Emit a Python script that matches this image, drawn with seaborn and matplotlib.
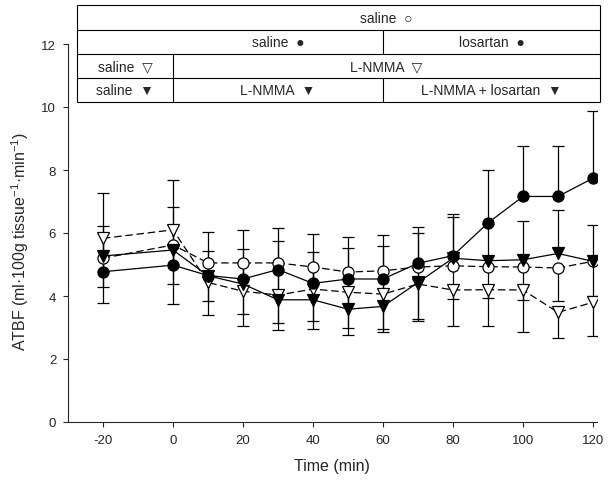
import matplotlib
matplotlib.use("Agg")
import matplotlib.pyplot as plt
import seaborn as sns
import numpy as np

# ---------------- data ----------------
times = [-20, 0, 10, 20, 30, 40, 50, 60, 70, 80, 90, 100, 110, 120]

# saline throughout (open circle, dashed)
oc_mean = [5.20, 5.62, 5.05, 5.05, 5.05, 4.92, 4.76, 4.80, 4.92, 4.96, 4.93, 4.92, 4.89, 5.10]
oc_err = [1.42, 1.86, 1.20, 1.62, 1.91, 1.72, 1.76, 1.85, 1.65, 1.06, 1.00, 1.05, 1.04, 1.09]

# saline -> losartan (filled circle, solid)
fc_mean = [4.77, 4.98, 4.65, 4.54, 4.84, 4.40, 4.54, 4.54, 5.04, 5.28, 6.32, 7.16, 7.16, 7.74]
fc_err = [1.44, 1.83, 0.79, 0.95, 1.31, 1.01, 0.97, 1.04, 1.16, 1.32, 1.69, 1.61, 1.61, 2.14]

# saline -> L-NMMA (open triangle, dashed)
ot_mean = [5.83, 6.10, 4.43, 4.15, 4.03, 4.22, 4.12, 4.06, 4.38, 4.19, 4.20, 4.19, 3.48, 3.80]
ot_err = [1.56, 1.72, 1.03, 1.09, 1.11, 1.27, 1.36, 1.21, 1.17, 1.15, 1.14, 1.32, 0.82, 1.06]

# saline -> L-NMMA -> L-NMMA + losartan (filled triangle, solid)
ft_mean = [5.27, 5.46, 4.64, 4.38, 3.88, 3.88, 3.58, 3.67, 4.43, 5.20, 5.12, 5.15, 5.35, 5.10]
ft_err = [2.00, 2.23, 1.40, 1.72, 1.88, 2.09, 2.28, 2.27, 1.57, 1.30, 1.18, 1.24, 1.39, 1.15]

x_ticks = [-20, 0, 20, 40, 60, 80, 100, 120]
y_ticks = [0, 2, 4, 6, 8, 10, 12]

# table (protocol) texts
row1 = ["saline  \u25CB"]
row2 = ["saline  \u25CF", "losartan  \u25CF"]
row3 = ["saline  \u25BD", "L-NMMA  \u25BD"]
row4 = ["saline  \u25BC", "L-NMMA  \u25BC", "L-NMMA + losartan  \u25BC"]

# ---------------- style ----------------
sns.set_style("ticks")
plt.rcParams['font.family'] = ['Liberation Sans', 'DejaVu Sans']
plt.rcParams['mathtext.default'] = 'regular'
plt.rcParams['axes.unicode_minus'] = False

fig = plt.figure(figsize=(6.08, 4.89), dpi=100)
ax = fig.add_axes([68 / 608, 1 - 423 / 489, 528.5 / 608, 378 / 489])

dash = (0, (6, 3))
lw = 0.9

def err_bars(x, y, e, direction, z):
    x = np.asarray(x, float)
    y = np.asarray(y, float)
    e = np.asarray(e, float)
    end = y + e if direction > 0 else y - e
    ax.vlines(x, y, end, colors='black', linewidth=lw, zorder=z)
    ax.plot(x, end, linestyle='none', marker='_', markersize=9,
            markeredgewidth=lw, color='black', zorder=z)

err_bars(times, oc_mean, oc_err, -1, 1)
err_bars(times, ot_mean, ot_err, -1, 1)
err_bars(times, fc_mean, fc_err, +1, 1)
err_bars(times, ft_mean, ft_err, +1, 1)

common = dict(ax=ax, color='black', linewidth=lw, markeredgecolor='black',
              markeredgewidth=0.9, errorbar=None)
sns.lineplot(x=times, y=oc_mean, marker='o', markersize=8, markerfacecolor='white',
             linestyle=dash, zorder=3, **common)
sns.lineplot(x=times, y=ot_mean, marker='v', markersize=8, markerfacecolor='white',
             linestyle=dash, zorder=3, **common)
sns.lineplot(x=times, y=ft_mean, marker='v', markersize=8, markerfacecolor='black',
             linestyle='-', zorder=4, **common)
sns.lineplot(x=times, y=fc_mean, marker='o', markersize=8, markerfacecolor='black',
             linestyle='-', zorder=5, **common)

ax.set_xlim(-30, 121)
ax.set_ylim(0, 12)
ax.set_xticks(x_ticks)
ax.set_yticks(y_ticks)
sns.despine(ax=ax)
for s in ['left', 'bottom']:
    ax.spines[s].set_linewidth(0.8)
ax.tick_params(direction='out', length=3.5, width=0.8, pad=5, labelsize=9.5)

ax.set_xlabel("Time (min)", fontsize=11.5, labelpad=9)
ax.set_ylabel("ATBF (ml\u00B7100g tissue$^{-1}$\u00B7min$^{-1}$)", fontsize=11.5)
ax.yaxis.set_label_coords(-0.07, 0.48)

# ---------------- protocol table ----------------
t_left, t_right = -27.4, 122.0
d0, d60 = 0.0, 60.0
rows = [13.24, 12.44, 11.68, 10.92, 10.16]
tk = dict(colors='black', linewidth=0.8, clip_on=False, zorder=6)
ax.hlines(rows, t_left, t_right, **tk)
ax.vlines([t_left, t_right], rows[-1], rows[0], **tk)
ax.vlines([d60], rows[2], rows[1], **tk)
ax.vlines([d0], rows[4], rows[2], **tk)
ax.vlines([d60], rows[4], rows[3], **tk)

def cy(i):
    return (rows[i] + rows[i + 1]) / 2

tx = dict(ha='center', va='center', fontsize=10, clip_on=False,
          family=['Liberation Sans', 'DejaVu Sans'])
ax.text((d0 + t_right) / 2, cy(0), row1[0], **tx)
ax.text((d0 + d60) / 2, cy(1), row2[0], **tx)
ax.text((d60 + t_right) / 2, cy(1), row2[1], **tx)
ax.text((t_left + d0) / 2, cy(2), row3[0], **tx)
ax.text((d0 + t_right) / 2, cy(2), row3[1], **tx)
ax.text((t_left + d0) / 2, cy(3), row4[0], **tx)
ax.text((d0 + d60) / 2, cy(3), row4[1], **tx)
ax.text((d60 + t_right) / 2, cy(3), row4[2], **tx)

fig.savefig("out.png", dpi=100)
